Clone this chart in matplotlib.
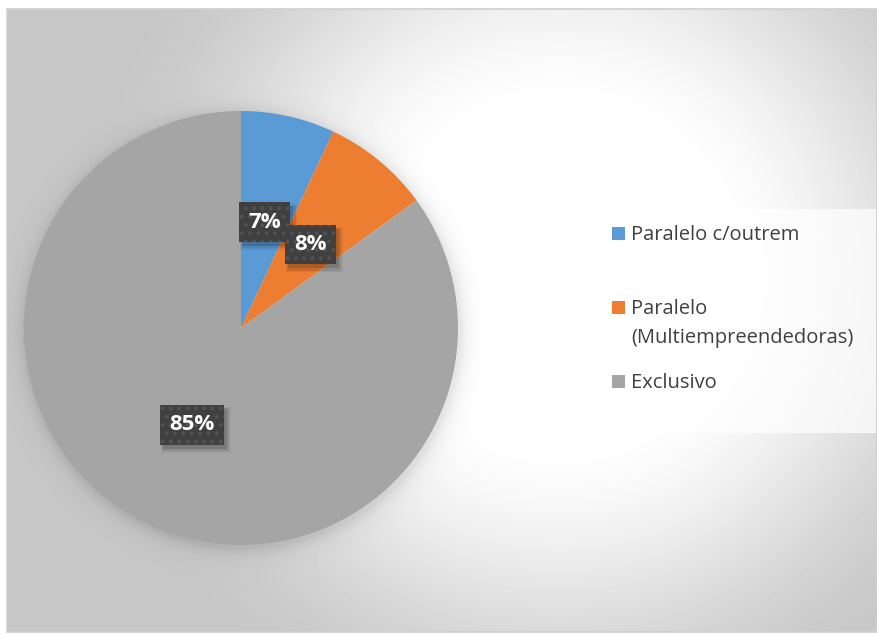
import numpy as np
import matplotlib
matplotlib.use("Agg")
import matplotlib.pyplot as plt
from matplotlib.patches import Rectangle

plt.rcParams['font.family'] = ['Open Sans', 'DejaVu Sans']
plt.rcParams['hatch.linewidth'] = 1.6

# share of each type of activity
labels = ['Paralelo c/outrem', 'Paralelo\n(Multiempreendedoras)', 'Exclusivo']
shares = [7, 8, 85]
colors = ['#5b9bd5', '#ed7d31', '#a5a5a5']

W, H = 878, 634
fig = plt.figure(figsize=(W / 100, H / 100), dpi=100)
fig.patch.set_facecolor('white')

# pie placement in pixels
cx, cy, r = 241, 328, 217

# chart area: radial grey-white fill plus a faint halo under the pie
bx0, by0, bx1, by1 = 7, 9, 877, 632
bg = fig.add_axes([bx0 / W, 1 - by1 / H, (bx1 - bx0) / W, (by1 - by0) / H])
yy, xx = np.mgrid[by0:by1, bx0:bx1] + 0.5
d = np.hypot(xx - 560, yy - 275)
t = np.clip((d - 150) / 340, 0, 1)
v = 1.0 - 0.22 * (t * t * (3 - 2 * t))
dp = np.hypot(xx - cx - 2, yy - cy - 3) - r
v -= 0.10 * np.exp(-np.clip(dp, 0, None) / 9.0) * (dp > -5)
bg.imshow(v, cmap='gray', vmin=0, vmax=1, extent=[bx0, bx1, by1, by0],
          aspect='auto', interpolation='bilinear')
bg.set_xlim(bx0, bx1)
bg.set_ylim(by1, by0)
bg.axis('off')
fig.patches.append(Rectangle((bx0 / W, 1 - by1 / H), (bx1 - bx0) / W, (by1 - by0) / H,
                             transform=fig.transFigure, fill=False,
                             edgecolor='#cfcfcf', linewidth=1.2, zorder=5))

# pie
ax = fig.add_axes([(cx - r) / W, 1 - (cy + r) / H, 2 * r / W, 2 * r / H])
ax.set_facecolor('none')
wedges, texts, autotexts = ax.pie(shares, colors=colors, startangle=90, counterclock=False,
                                  radius=1, autopct='%1.0f%%', pctdistance=0.5,
                                  wedgeprops=dict(linewidth=0),
                                  textprops=dict(color='white', fontsize=16, fontweight='bold'))
ax.set_xlim(-1, 1)
ax.set_ylim(-1, 1)
ax.set_aspect('equal')
ax.axis('off')

for at in autotexts:
    at.set_zorder(5)
    at.set_bbox(dict(boxstyle='square,pad=0.42', facecolor='#404040', edgecolor='#525252',
                     linewidth=0, hatch='..'))

# soft drop shadow behind each label box, sized from the drawn box
fig.canvas.draw()
for at in autotexts:
    ext = at.get_bbox_patch().get_window_extent()
    for ox, oy, grow, a in [(4, -5, 3, 0.06), (4, -5, 1.5, 0.09), (3, -4, 0, 0.14)]:
        ax.add_patch(Rectangle((ext.x0 + ox - grow, ext.y0 + oy - grow),
                               ext.width + 2 * grow, ext.height + 2 * grow,
                               transform=None, facecolor='black', alpha=a,
                               edgecolor='none', zorder=4))

# legend panel
lx0, ly0, lx1, ly1 = 599, 209, 876, 433
fig.patches.append(Rectangle((lx0 / W, 1 - ly1 / H), (lx1 - lx0) / W, (ly1 - ly0) / H,
                             transform=fig.transFigure, facecolor='white', alpha=0.7,
                             edgecolor='none', zorder=3))
marker_y = [240, 314, 388]
text_y = [240, 343, 388]
for lab, col, ym, yt in zip(labels, colors, marker_y, text_y):
    fig.patches.append(Rectangle((612 / W, 1 - ym / H), 13 / W, 13 / H,
                                 transform=fig.transFigure, facecolor=col,
                                 edgecolor='none', zorder=4))
    fig.text(631 / W, 1 - yt / H, lab, fontsize=14.5, color='#404040',
             va='baseline', ha='left', linespacing=1.58, zorder=4)

fig.savefig('out.png', dpi=100)
